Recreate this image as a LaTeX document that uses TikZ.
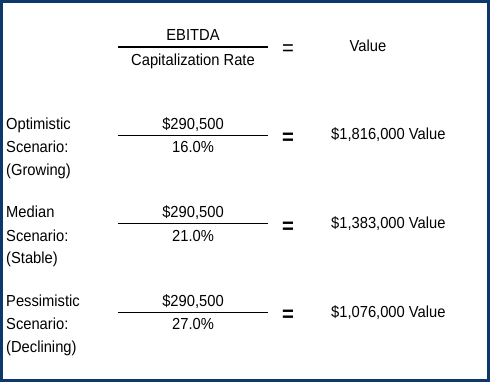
\documentclass[tikz,border=0pt]{standalone}
\usepackage{fontspec}
\setmainfont{Liberation Sans}[FakeStretch=0.92]
\definecolor{navy}{RGB}{12,56,106}
\begin{document}
\begin{tikzpicture}[x=1pt,y=-1pt,
  txt/.style={inner sep=0pt,font=\fontsize{16pt}{19pt}\selectfont},
  lbl/.style={txt,anchor=base west},
  num/.style={txt,anchor=base},
  eqs/.style={inner sep=0pt,font=\fontsize{22pt}{24pt}\selectfont}]
\useasboundingbox (0,0) rectangle (490,382);
\draw[navy,line width=3pt] (1.5,1.5) rectangle (488.5,380.5);
% heading
\node[num] (ebitda) at (193,41) {EBITDA};
\node[num] (caprate) at (193,66) {Capitalization Rate};
\coordinate (hl) at (118,47);
\coordinate (hr) at (268,47);
\draw[line width=2pt] (hl) -- (hr);
\node[eqs] (heq) at (288,50) {=};
\node[num] (hval) at (368,52) {Value};
% scenarios
\foreach \i/\name/\state/\rate/\val in {0/Optimistic/Growing/16.0/{1,816,000},
    1/Median/Stable/21.0/{1,383,000},2/Pessimistic/Declining/27.0/{1,076,000}}{
  \node[lbl] (name\i) at (6,130+88*\i) {\name};
  \node[lbl] (scen\i) at (6,153+88*\i) {Scenario:};
  \node[lbl] (state\i) at (6,176+88*\i) {(\state)};
  \node[num] (ebit\i) at (193,130+88*\i) {\$290,500};
  \node[num] (rate\i) at (193,153+88*\i) {\rate\%};
  \coordinate (fl\i) at (118,135.5+88.5*\i);
  \coordinate (fr\i) at (268,135.5+88.5*\i);
  \draw[line width=1pt] (fl\i) -- (fr\i);
  \node[eqs,font=\fontsize{22pt}{24pt}\selectfont\bfseries] (eq\i) at (288,139+88.5*\i) {=};
  \node[lbl] (val\i) at (331,140+88.5*\i) {\$\val{} Value};
}
\end{tikzpicture}
\end{document}
